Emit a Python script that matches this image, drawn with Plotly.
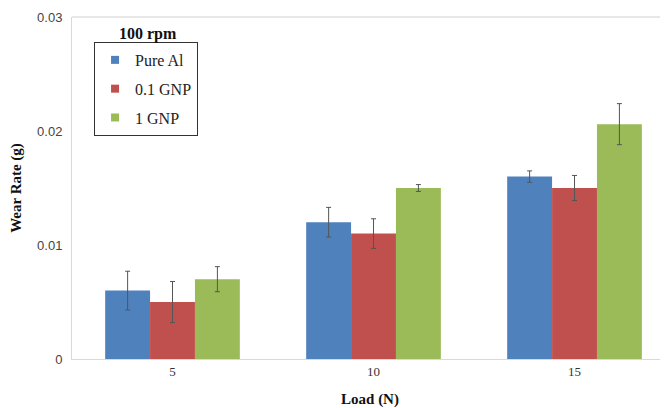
import plotly.graph_objects as go

loads = ["5", "10", "15"]
pure_al = [0.006, 0.012, 0.016]
pure_al_err = [0.0017, 0.0013, 0.0005]
gnp01 = [0.005, 0.011, 0.015]
gnp01_err = [0.0018, 0.0013, 0.0011]
gnp1 = [0.007, 0.015, 0.0206]
gnp1_err = [0.0011, 0.0003, 0.0018]
y_ticks = [0, 0.01, 0.02, 0.03]
y_tick_labels = ["0", "0.01", "0.02", "0.03"]

series = [
    ("Pure Al", pure_al, pure_al_err, "#4F81BD"),
    ("0.1 GNP", gnp01, gnp01_err, "#C0504D"),
    ("1 GNP", gnp1, gnp1_err, "#9BBB59"),
]

fig = go.Figure()
for name, vals, errs, col in series:
    fig.add_trace(go.Bar(
        x=loads, y=vals, name=name, legendgroup=name, showlegend=False,
        marker=dict(color=col, line=dict(width=0)),
        error_y=dict(type="data", array=errs, visible=True, color="#555555",
                     thickness=1, width=2.5),
    ))
# legend entries with small square keys
for name, vals, errs, col in series:
    fig.add_trace(go.Scatter(
        x=[None], y=[None], mode="markers", name=name, legendgroup=name,
        marker=dict(symbol="square", size=8, color=col), hoverinfo="skip",
    ))

# page body has an 8px default margin, so the figure is 8px smaller
fig.update_layout(
    width=660, height=400,
    margin=dict(l=64, r=0, t=9, b=49, autoexpand=False),
    paper_bgcolor="white", plot_bgcolor="white",
    barmode="group", bargap=0.33, bargroupgap=0,
    showlegend=True,
    legend=dict(
        x=0.037, y=0.927, xanchor="left", yanchor="top",
        bordercolor="#333333", borderwidth=1, bgcolor="white",
        font=dict(family="Liberation Serif", size=16, color="#222222"),
        itemwidth=30, tracegroupgap=5,
    ),
    xaxis=dict(
        range=[-0.5, 2.465], showgrid=False, showline=True, linecolor="#d9d9d9",
        linewidth=1, ticks="", automargin=False,
        tickfont=dict(family="Liberation Serif", size=13, color="#333333"),
        title=dict(text="<b>Load (N)</b>", font=dict(family="Liberation Serif", size=15, color="#111111"), standoff=15),
    ),
    yaxis=dict(
        range=[0, 0.03], tickvals=y_ticks, ticktext=y_tick_labels, showgrid=False,
        showline=True, linecolor="#d9d9d9", linewidth=1, ticks="", zeroline=False,
        automargin=False, ticklabelstandoff=6,
        tickfont=dict(family="Liberation Sans", size=13, color="#444444"),
        title=dict(text="<b>Wear Rate (g)</b>", font=dict(family="Liberation Serif", size=15, color="#111111"), standoff=12),
    ),
    annotations=[dict(
        text="<b>100 rpm</b>", x=0.128, y=1.0, xref="paper", yref="paper",
        xanchor="center", yanchor="top", showarrow=False, yshift=-6,
        font=dict(family="Liberation Serif", size=16, color="#111111"),
    )],
    shapes=[dict(type="line", xref="paper", yref="paper", x0=0, x1=1, y0=1, y1=1,
                 line=dict(color="#d0d0d0", width=1))],
)

fig.write_html("out.html")
